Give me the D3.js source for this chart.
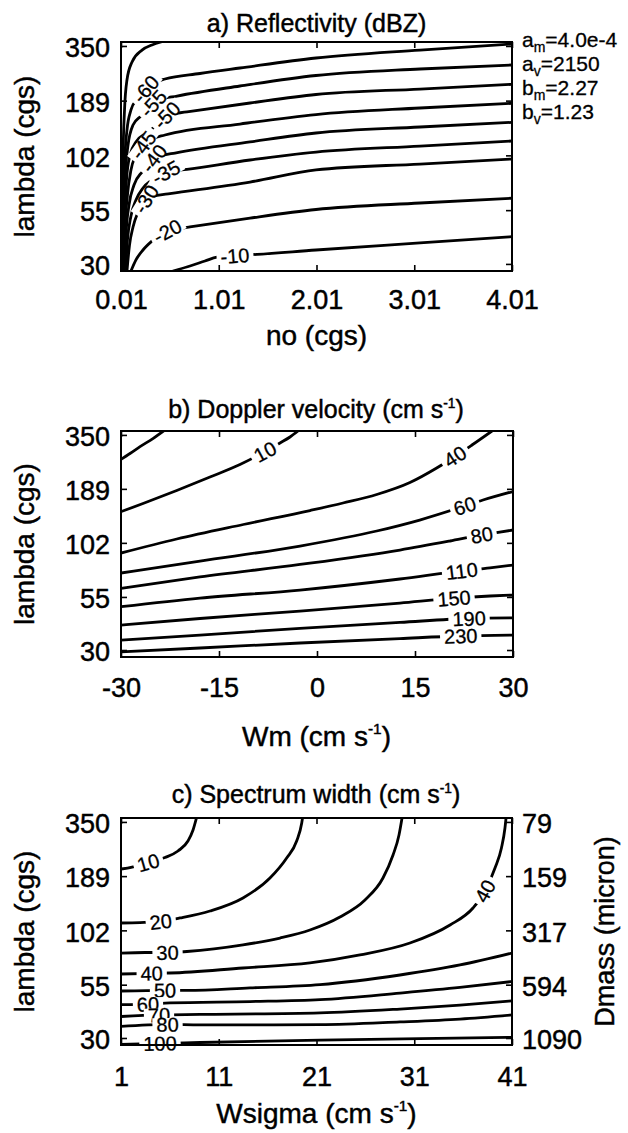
<!DOCTYPE html>
<html><head><meta charset="utf-8">
<script src="https://cdn.jsdelivr.net/npm/d3@7"></script>
<style>body{margin:0;background:#fff} svg{display:block}</style>
</head><body><svg id="c" width="628" height="1133"></svg>
<script>
// ---------- tick values ----------
const lambdaTicks = [350, 189, 102, 55, 30];
const dmassTicks  = [79, 159, 317, 594, 1090];
const noTicks     = [0.01, 1.01, 2.01, 3.01, 4.01];
const wmTicks     = [-30, -15, 0, 15, 30];
const wsTicks     = [1, 11, 21, 31, 41];
const lambdaRange = [27.7, 366];

// ---------- a) reflectivity contours: [no, lambda] ----------
const reflTop = [[0.018,27.7],[0.023,49.2],[0.030,96.8],[0.046,170.1],[0.071,238.5],[0.123,292.2],[0.225,334.2],[0.327,353.9],[0.419,366]];
const reflM60 = [[0.023,27.7],[0.030,49.2],[0.046,91.5],[0.071,135.7],[0.112,170.1],[0.174,192.5],[0.263,215.4],[0.358,231.9],[0.460,241.2],[0.818,256.6],[1.227,273.0],[2.005,305.6],[3.069,334.2],[4.01,357.9]];
const reflM55 = [[0.028,27.7],[0.036,46.5],[0.051,77.3],[0.082,114.6],[0.133,143.6],[0.215,159.0],[0.286,172.0],[0.340,183.4],[0.409,191.4],[0.583,199.1],[1.227,222.9],[2.005,250.9],[3.069,270.0],[4.01,282.4]];
const reflM50 = [[0.034,27.7],[0.046,49.2],[0.066,77.3],[0.102,102.4],[0.163,118.6],[0.286,132.7],[0.389,145.2],[0.478,160.7],[0.685,166.3],[1.330,184.0],[2.005,202.5],[3.069,215.4],[4.01,227.2]];
const reflM45 = [[0.039,27.7],[0.051,44.0],[0.076,65.2],[0.112,86.5],[0.163,102.4],[0.238,114.6],[0.327,122.6],[0.460,128.3],[1.227,145.2],[2.005,161.6],[3.069,173.9],[4.01,183.4]];
const reflM40 = [[0.046,27.7],[0.061,41.6],[0.092,58.3],[0.143,73.0],[0.225,84.5],[0.296,91.5],[0.348,98.7],[0.429,101.8],[0.562,104.7],[1.330,118.6],[2.005,131.2],[3.069,140.4],[4.01,148.0]];
const reflM35 = [[0.056,27.7],[0.076,39.3],[0.112,51.5],[0.163,61.7],[0.235,70.6],[0.327,77.3],[0.470,84.3],[0.685,87.0],[1.330,96.8],[2.005,105.9],[3.069,113.3],[4.01,119.9]];
const reflM30 = [[0.071,27.7],[0.097,37.1],[0.133,45.5],[0.184,53.9],[0.266,62.3],[0.378,64.9],[0.511,66.3],[1.330,75.5],[2.005,86.5],[3.069,92.5],[4.01,97.9]];
const reflM20 = [[0.112,27.7],[0.163,31.4],[0.235,35.1],[0.327,38.8],[0.409,41.6],[0.484,43.5],[0.614,44.7],[0.716,45.5],[1.330,50.3],[2.005,55.4],[3.069,59.6],[4.01,62.9]];
const reflM10 = [[0.542,27.7],[0.716,29.3],[0.869,31.0],[0.992,32.4],[1.176,32.9],[1.401,33.4],[2.005,35.1],[3.069,38.0],[4.01,40.8]];

// ---------- b) Doppler velocity contours: [Wm, lambda] ----------
const dopTop = [[-30,264.9],[-28.62,283.0],[-27.09,305.9],[-25.06,336.7],[-23.50,366]];
const dop10  = [[-30,145.6],[-26.63,159.9],[-21.47,185.5],[-16.38,216.4],[-11.79,249.6],[-7.96,289.0],[-5.66,319.1],[-4.13,341.8],[-2.91,366]];
const dop40  = [[-30,90.8],[-21.47,106.6],[-11.28,125.8],[-1.07,147.6],[3.98,160.8],[9.14,177.2],[14.23,203.2],[18.32,239.8],[21.12,273.5],[23.72,311.9],[26.78,366]];
const dop60  = [[-30,72.3],[-17.91,82.9],[-2.60,98.4],[9.14,116.8],[15.72,132.4],[22.61,155.4],[25.41,166.4],[30,183.4]];
const dop80  = [[-30,60.7],[-17.91,69.1],[-2.60,79.7],[12.70,94.0],[20.36,104.2],[25.21,111.6],[27.24,114.2],[30,118.2]];
const dop110 = [[-30,49.2],[-17.91,54.3],[-2.60,59.5],[12.70,67.5],[22.15,74.0],[26.48,76.6],[30,79.2]];
const dop150 = [[-30,39.9],[-17.91,43.0],[-2.60,46.8],[12.70,51.3],[20.97,54.2],[26.48,55.6],[30,56.2]];
const dop190 = [[-30,33.6],[-17.91,35.6],[-2.60,38.4],[12.70,41.1],[23.27,43.0],[30,43.3]];
const dop230 = [[-30,29.4],[-17.91,30.7],[-2.60,32.5],[12.70,34.2],[22.0,35.2],[30,35.6]];

// ---------- c) spectrum width contours: [Wsigma, lambda] ----------
const sw10  = [[1.0,204.9],[2.13,209.6],[3.79,220.7],[5.50,233.5],[6.83,251.5],[7.85,281.8],[8.37,319.3],[8.72,366]];
const sw20  = [[1.0,110.9],[2.94,111.5],[5.07,112.8],[7.04,117.4],[10.10,127.1],[13.48,147.4],[16.24,185.0],[17.95,232.3],[18.97,281.8],[19.49,345.8],[19.57,366]];
const sw30  = [[1.0,78.8],[3.46,79.3],[5.76,79.3],[7.75,80.2],[13.48,86.4],[17.27,93.5],[20.33,102.4],[23.40,118.7],[25.96,144.1],[27.80,185.0],[28.83,240.3],[29.44,301.7],[29.75,366]];
const sw40  = [[1.0,62.1],[4.14,62.6],[6.01,62.8],[13.48,66.5],[20.33,70.4],[25.45,77.1],[30.56,88.3],[34.66,108.4],[37.01,131.5],[38.24,159.6],[39.26,207.3],[39.92,260.2],[40.28,326.7],[40.39,366]];
const sw50  = [[1.0,51.2],[5.50,51.6],[7.75,51.5],[14.20,53.0],[21.36,55.0],[29.54,61.4],[35.68,68.8],[41,78.8]];
const sw60  = [[1.0,43.8],[3.76,44.1],[6.01,44.7],[14.20,45.4],[21.36,46.4],[29.54,50.0],[35.68,53.3],[41,57.0]];
const sw70  = [[1.0,38.3],[4.89,39.0],[9.08,39.2],[21.36,39.9],[29.54,41.7],[35.68,43.6],[41,45.7]];
const sw80  = [[1.0,34.2],[5.76,35.0],[9.08,34.8],[21.36,34.9],[29.54,36.0],[35.68,37.2],[41,39.0]];
const sw100 = [[1.0,27.9],[4.99,28.2],[9.08,28.5],[21.36,29.3],[31.59,29.8],[41,30.2]];

// series lists: level label, points, indices of label positions
const reflSeries = [
  {level:null, pts:reflTop, at:[]},
  {level:"-60", pts:reflM60, at:[6]}, {level:"-55", pts:reflM55, at:[7]},
  {level:"-50", pts:reflM50, at:[7]}, {level:"-45", pts:reflM45, at:[5]},
  {level:"-40", pts:reflM40, at:[6]}, {level:"-35", pts:reflM35, at:[6]},
  {level:"-30", pts:reflM30, at:[4]}, {level:"-20", pts:reflM20, at:[5]},
  {level:"-10", pts:reflM10, at:[4]}
];
const dopSeries = [
  {level:null, pts:dopTop, at:[]},
  {level:"10", pts:dop10, at:[5]}, {level:"40", pts:dop40, at:[8]},
  {level:"60", pts:dop60, at:[5]}, {level:"80", pts:dop80, at:[5]},
  {level:"110", pts:dop110, at:[4]}, {level:"150", pts:dop150, at:[4]},
  {level:"190", pts:dop190, at:[4]}, {level:"230", pts:dop230, at:[4]}
];
const swSeries = [
  {level:"10", pts:sw10, at:[2]}, {level:"20", pts:sw20, at:[2]},
  {level:"30", pts:sw30, at:[2]}, {level:"40", pts:sw40, at:[1,9]},
  {level:"50", pts:sw50, at:[1]}, {level:"60", pts:sw60, at:[1]},
  {level:"70", pts:sw70, at:[1]}, {level:"80", pts:sw80, at:[1]},
  {level:"100", pts:sw100, at:[1]}
];

// ---------- drawing ----------
const FONT = '"Liberation Sans", Arial, Helvetica, sans-serif';
const TXT_STROKE = 0.45;
const svg = d3.select('#c');
svg.append('rect').attr('width',628).attr('height',1133).attr('fill','#fff');
const defs = svg.append('defs');

function ink(sel) {
  return sel.attr('fill','#000').attr('stroke','#000').attr('stroke-width',TXT_STROKE);
}

function styleAxis(g, size) {
  g.attr('font-family', FONT).attr('font-size', size);
  g.select('.domain').remove();
  g.selectAll('.tick line').attr('stroke','#000').attr('stroke-width',1.6);
  ink(g.selectAll('.tick text'));
}

function textWithSup(g, x, y, size, before, sup, after) {
  const t = ink(g.append('text').attr('x',x).attr('y',y).attr('text-anchor','middle')
    .attr('font-family',FONT).attr('font-size',size));
  t.append('tspan').text(before);
  if (sup !== null) {
    t.append('tspan').attr('dy',-size*0.42).attr('font-size',size*0.55).text(sup);
    t.append('tspan').attr('dy',size*0.42).text(after);
  }
  return t;
}

function drawPanel(cfg) {
  const x = d3.scaleLinear().domain(cfg.xDomain).range([cfg.left, cfg.right]);
  const y = d3.scaleLog().domain(lambdaRange).range([cfg.bottom, cfg.top]);
  const g = svg.append('g');
  const cid = 'clip-' + cfg.id;
  defs.append('clipPath').attr('id', cid).append('rect')
    .attr('x', cfg.left).attr('y', cfg.top)
    .attr('width', cfg.right - cfg.left).attr('height', cfg.bottom - cfg.top);

  const line = d3.line().x(d => x(d[0])).y(d => y(d[1])).curve(d3.curveMonotoneX);
  const cg = g.append('g').attr('clip-path', `url(#${cid})`);
  cfg.series.forEach(s => {
    cg.append('path').attr('d', line(s.pts)).attr('fill','none')
      .attr('stroke','#000').attr('stroke-width',2.8)
      .attr('stroke-linejoin','round').attr('stroke-linecap','round');
  });
  // inline contour labels, rotated along the contour
  cfg.series.forEach(s => s.at.forEach(i => {
    const p = s.pts[i], a = s.pts[i-1], b = cfg.labelIncoming ? s.pts[i] : s.pts[i+1];
    const px = x(p[0]), py = y(p[1]);
    const ang = Math.atan2(y(b[1]) - y(a[1]), x(b[0]) - x(a[0])) * 180 / Math.PI;
    const lg = g.append('g').attr('transform', `translate(${px},${py}) rotate(${ang})`);
    const r = lg.append('rect').attr('fill','#fff');
    const t = ink(lg.append('text').attr('text-anchor','middle').attr('dy','0.36em')
      .attr('font-family',FONT).attr('font-size',20)).attr('stroke-width',0.3).text(s.level);
    const w = t.node().getComputedTextLength();
    r.attr('x', -w/2 - 4).attr('y', -6.5).attr('width', w + 8).attr('height', 13);
  }));

  // axes (inward ticks on all four sides)
  const ax = g.append('g').attr('transform', `translate(0,${cfg.bottom})`)
    .call(d3.axisBottom(x).tickValues(cfg.xTicks).tickSize(-6).tickPadding(cfg.xPad)
      .tickFormat(d => cfg.xFmt(d)));
  styleAxis(ax, 27);
  const axT = g.append('g').attr('transform', `translate(0,${cfg.top})`)
    .call(d3.axisTop(x).tickValues(cfg.xTicks).tickSize(-6).tickFormat(''));
  styleAxis(axT, 27);
  const ay = g.append('g').attr('transform', `translate(${cfg.left},0)`)
    .call(d3.axisLeft(y).tickValues(lambdaTicks).tickSize(-6).tickPadding(11)
      .tickFormat(d => String(d)));
  styleAxis(ay, 27);
  ay.selectAll('.tick text').attr('dy','0.4em');
  const ayR = g.append('g').attr('transform', `translate(${cfg.right},0)`)
    .call(d3.axisRight(y).tickValues(lambdaTicks).tickSize(-6).tickPadding(10)
      .tickFormat((d, i) => cfg.rightLabels ? String(cfg.rightLabels[i]) : ''));
  styleAxis(ayR, 27);
  ayR.selectAll('.tick text').attr('dy','0.4em');

  g.append('rect').attr('x', cfg.left).attr('y', cfg.top)
    .attr('width', cfg.right - cfg.left).attr('height', cfg.bottom - cfg.top)
    .attr('fill','none').attr('stroke','#000').attr('stroke-width',2);

  // y-axis title
  ink(g.append('text').attr('transform', `translate(34,${(cfg.top + cfg.bottom)/2}) rotate(-90)`)
    .attr('text-anchor','middle').attr('font-family',FONT).attr('font-size',28))
    .text('lambda (cgs)');
  return {x, y, g};
}

const fmt2 = d => d.toFixed(2);
const fmtInt = d => String(d);

// panel a
const pa = drawPanel({id:'a', left:121, right:512, top:42, bottom:271, xDomain:[0.01,4.01],
  xTicks:noTicks, xFmt:fmt2, xPad:19, series:reflSeries, rightLabels:null, labelIncoming:true});
textWithSup(pa.g, 316.5, 32, 25, 'a) Reflectivity (dBZ)', null, '');
textWithSup(pa.g, 316.5, 345, 28, 'no (cgs)', null, '');
// coefficient annotation
const coef = [['a','m','=4.0e-4'],['a','v','=2150'],['b','m','=2.27'],['b','v','=1.23']];
coef.forEach((c, i) => {
  const t = ink(pa.g.append('text').attr('x',522).attr('y',47 + i*24)
    .attr('font-family',FONT).attr('font-size',21)).attr('stroke-width',0.3);
  t.append('tspan').text(c[0]);
  t.append('tspan').attr('dy',5).attr('font-size',14).text(c[1]);
  t.append('tspan').attr('dy',-5).text(c[2]);
});

// panel b
const pb = drawPanel({id:'b', left:121, right:513, top:431, bottom:657, xDomain:[-30,30],
  xTicks:wmTicks, xFmt:fmtInt, xPad:21, series:dopSeries, rightLabels:null, labelIncoming:false});
textWithSup(pb.g, 316, 418, 25, 'b) Doppler velocity (cm s', '-1', ')');
textWithSup(pb.g, 316.5, 746, 28, 'Wm (cm s', '-1', ')');

// panel c
const pc = drawPanel({id:'c', left:121, right:512, top:818, bottom:1045, xDomain:[1,41],
  xTicks:wsTicks, xFmt:fmtInt, xPad:22, series:swSeries, rightLabels:dmassTicks, labelIncoming:false});
textWithSup(pc.g, 316, 803, 25, 'c) Spectrum width (cm s', '-1', ')');
textWithSup(pc.g, 316.5, 1123, 28, 'Wsigma (cm s', '-1', ')');
ink(pc.g.append('text').attr('transform', 'translate(614,931.5) rotate(-90)')
  .attr('text-anchor','middle').attr('font-family',FONT).attr('font-size',27))
  .text('Dmass (micron)');
</script></body></html>
